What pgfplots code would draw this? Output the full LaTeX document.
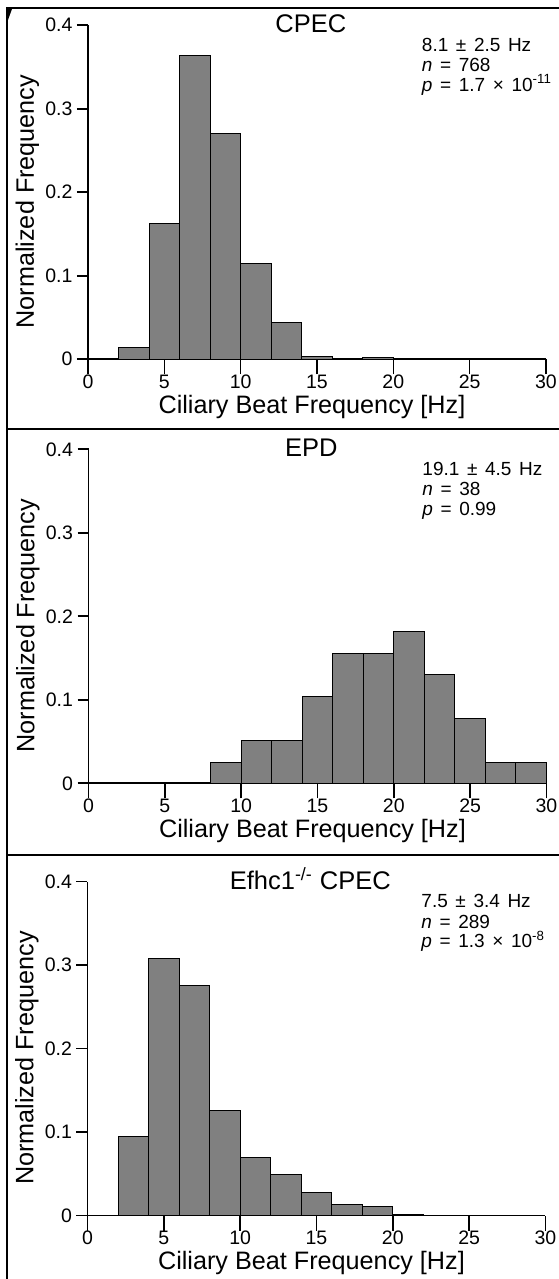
\documentclass[border=0pt]{standalone}
\usepackage{fontspec}
\setmainfont{Liberation Sans}
\usepackage{pgfplots}
\pgfplotsset{compat=1.18}

\definecolor{barfill}{RGB}{128,128,128}

\newcommand\annfont{\fontsize{9.5}{10}\selectfont\spaceskip=0.4em\relax}
\tikzset{ann/.style={anchor=base west, font=\annfont, inner sep=0pt}}

\pgfplotsset{
  cbf/.style={
    scale only axis, width=229pt, height=167pt,
    anchor=south west,
    xmin=0, xmax=30, ymin=0, ymax=0.4,
    axis x line*=bottom, axis y line*=left,
    axis line style={line width=0.8pt, -},
    tick align=outside,
    xtick={0,5,...,30}, xticklabels={0,5,10,15,20,25,30},
    ytick={0,0.1,0.2,0.3,0.4}, yticklabels={0,0.1,0.2,0.3,0.4},
    xtick style={line width=0.8pt, black, /pgfplots/major tick length=7.5pt},
    ytick style={line width=0.8pt, black, /pgfplots/major tick length=5.5pt},
    minor tick num=0,
    tick label style={font=\fontsize{9.75}{11}\selectfont},
    /pgf/number format/assume math mode=true,
    xlabel={Ciliary Beat Frequency [Hz]},
    ylabel={Normalized Frequency},
    every axis x label/.style={at={(rel axis cs:0.489,0)}, anchor=base, yshift=-27pt, font=\fontsize{12.6}{14}\selectfont},
    every axis y label/.style={at={(rel axis cs:-0.118,0.472)}, anchor=base, rotate=90, font=\fontsize{12.6}{14}\selectfont},
    every axis title/.style={at={(rel axis cs:0.4865,1)}, anchor=base, yshift=-3.7pt, font=\fontsize{12.75}{14}\selectfont},
    clip=false,
  },
  hist/.style={ybar interval, fill=barfill, draw=black, line width=0.5pt},
}

\begin{document}
\begin{tikzpicture}
\useasboundingbox (0,0) rectangle (279pt,639.5pt);

% panel frames
\draw[line width=1pt] (3.25pt,-5pt) -- (3.25pt,635.5pt) -- (290pt,635.5pt);
\draw[line width=1pt] (3.25pt,425pt) -- (290pt,425pt);
\draw[line width=1pt] (3.25pt,212pt) -- (290pt,212pt);
\fill (3.5pt,635pt) -- (6pt,635pt) -- (4pt,629.5pt) -- cycle;

% CPEC
\begin{axis}[cbf, at={(44pt,459.85pt)}, title={CPEC}]
\addplot[hist] coordinates {
  (2,0.014) (4,0.163) (6,0.364) (8,0.270) (10,0.115) (12,0.044)
  (14,0.003) (16,0.001) (18,0.002) (20,0.0005) (22,0)
};
\node[ann] at (axis cs:21.85,0.3688) {8.1 ± 2.5 Hz};
\node[ann] at (axis cs:21.85,0.3442) {\textit{n} = 768};
\node[ann] at (axis cs:21.85,0.3208) {\textit{p} = 1.7 × 10\textsuperscript{-11}};
\end{axis}

% EPD
\begin{axis}[cbf, at={(44.25pt,247.85pt)}, title={EPD}]
\addplot[hist] coordinates {
  (8,0.025) (10,0.051) (12,0.051) (14,0.104) (16,0.156) (18,0.156)
  (20,0.182) (22,0.130) (24,0.078) (26,0.025) (28,0.025) (30,0)
};
\node[ann] at (axis cs:21.85,0.3688) {19.1 ± 4.5 Hz};
\node[ann] at (axis cs:21.85,0.3442) {\textit{n} = 38};
\node[ann] at (axis cs:21.85,0.3208) {\textit{p} = 0.99};
\end{axis}

% Efhc1-/- CPEC
\begin{axis}[cbf, at={(43.75pt,31.65pt)}, title={Efhc1\textsuperscript{-/-} CPEC}]
\addplot[hist] coordinates {
  (2,0.095) (4,0.308) (6,0.276) (8,0.126) (10,0.070) (12,0.049)
  (14,0.028) (16,0.014) (18,0.011) (20,0.001) (22,0)
};
\node[ann] at (axis cs:21.85,0.3688) {7.5 ± 3.4 Hz};
\node[ann] at (axis cs:21.85,0.3442) {\textit{n} = 289};
\node[ann] at (axis cs:21.85,0.3208) {\textit{p} = 1.3 × 10\textsuperscript{-8}};
\end{axis}
\end{tikzpicture}
\end{document}
